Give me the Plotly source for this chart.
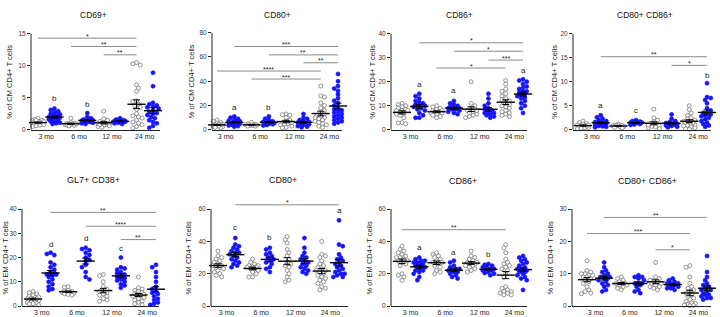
import numpy as np
import plotly.graph_objects as go

W, H = 720, 317
groups = ["3 mo", "6 mo", "12 mo", "24 mo"]

# Each panel: 8 columns -> [ctrl 3mo, trt 3mo, ctrl 6mo, trt 6mo, ctrl 12mo, trt 12mo, ctrl 24mo, trt 24mo]
cd69_cm = [
    [1.8, 1.6, 1.5, 1.4, 1.3, 1.3, 1.2, 1.1, 1.0, 1.0, 0.9, 0.8, 0.8, 0.7, 0.6, 0.5, 1.2, 1.5],
    [3.3, 3.1, 2.9, 2.7, 2.5, 2.3, 2.2, 2.0, 1.9, 1.8, 1.7, 1.5, 1.4, 1.3, 1.1, 1.0, 0.9, 2.4, 1.6],
    [1.8, 1.1, 1.0, 1.0, 0.9, 0.9, 0.8, 0.8, 0.7, 0.7, 0.6, 0.9],
    [2.6, 2.0, 1.8, 1.6, 1.5, 1.4, 1.4, 1.3, 1.3, 1.2, 1.1, 1.0, 0.9, 1.5, 1.2],
    [2.9, 1.7, 1.5, 1.3, 1.1, 1.0, 0.9, 0.8, 0.7, 0.6, 0.5, 0.4, 1.0, 0.8],
    [1.8, 1.6, 1.5, 1.4, 1.4, 1.3, 1.3, 1.2, 1.2, 1.1, 1.0, 0.9, 1.5],
    [10.5, 10.3, 10.1, 7.0, 6.5, 6.0, 4.5, 4.4, 4.0, 3.8, 3.5, 3.2, 2.5, 2.2, 2.0, 1.8, 1.5, 1.2, 1.0, 0.8, 0.5, 0.3],
    [8.9, 6.8, 4.2, 4.0, 3.8, 3.5, 3.3, 3.0, 2.8, 2.5, 2.3, 2.0, 1.8, 1.5, 1.2, 1.0, 0.6, 0.3, 3.6, 2.6],
]
cd80_cm = [
    [8, 7, 6, 5.5, 5, 4.5, 4, 4, 3.5, 3, 3, 2.5, 2, 1.5, 1, 4.5, 3],
    [11, 10, 9, 8, 7.5, 7, 6.5, 6, 5.5, 5, 5, 4.5, 4, 3.5, 3, 2.5, 6, 5],
    [6, 5, 4.5, 4, 4, 3.5, 3.5, 3, 3, 4],
    [11, 9, 8, 7, 6.5, 6, 5.5, 5, 5, 4.5, 4, 3.5, 6],
    [13, 12.5, 12, 10, 8, 7, 6, 5, 4.5, 4, 3, 2, 1.5, 6],
    [13, 10, 9, 8, 7, 6.5, 6, 5.5, 5, 4.5, 4, 3, 2.5, 2, 6],
    [36, 28, 27, 22, 20, 18, 16, 14, 13, 12, 11, 10, 9, 8, 7, 6, 5, 4, 3, 2, 10],
    [46, 40, 36, 34, 32, 29, 26, 24, 22, 20, 18, 17, 16, 15, 14, 13, 12, 11, 10, 9, 8, 7, 6, 5],
]
cd86_cm = [
    [11, 10.5, 10, 9.5, 9, 8.5, 8, 8, 7.5, 7, 6.5, 6, 5, 3, 2.8, 2.5, 8],
    [15, 14, 13, 12, 11.5, 11, 10.5, 10, 9.5, 9, 8.5, 8, 7, 6, 5, 5, 10],
    [10, 9.5, 9, 8.5, 8, 8, 7.5, 7, 7, 6.5, 6, 5.5, 5, 7.5],
    [12, 11, 10.5, 10, 9.5, 9, 9, 8.5, 8.5, 8, 7.5, 7, 6.5, 9],
    [20, 11, 10, 9, 8.5, 8, 8, 7.5, 7, 6.5, 6, 5.5, 5, 8],
    [15, 13, 11, 10, 9, 8.5, 8, 7.5, 7, 6.5, 6, 5.5, 5, 7],
    [20.5, 19, 17, 16, 15, 14, 13, 12.5, 12, 11, 10.5, 10, 9.5, 9, 8, 7.5, 7, 6.5, 6, 5.5],
    [21, 20.5, 20, 19, 18, 17.5, 17, 16, 15.5, 15, 14.5, 14, 13.5, 13, 12.5, 12, 11, 10, 9, 7, 15, 16],
]
cd80cd86_cm = [
    [1.8, 1.5, 1.3, 1.2, 1.0, 0.9, 0.8, 0.7, 0.6, 0.5, 0.4, 0.3, 0.2, 0.8, 1.0],
    [3.0, 2.6, 2.3, 2.0, 1.8, 1.6, 1.4, 1.3, 1.2, 1.0, 0.9, 0.8, 0.7, 0.6, 0.5, 1.5],
    [1.2, 1.0, 0.9, 0.9, 0.8, 0.8, 0.7, 0.6, 0.5, 0.4],
    [2.0, 1.8, 1.7, 1.6, 1.5, 1.5, 1.4, 1.3, 1.2, 1.1, 1.0, 1.5],
    [4.3, 2.5, 2.0, 1.6, 1.3, 1.1, 1.0, 0.8, 0.7, 0.6, 0.4, 0.2, 1.0],
    [3.2, 2.3, 1.8, 1.6, 1.4, 1.3, 1.2, 1.1, 1.0, 0.9, 0.8, 0.6, 0.5],
    [5.0, 4.2, 3.5, 3.0, 2.5, 2.2, 2.0, 1.8, 1.6, 1.4, 1.2, 1.0, 0.9, 0.8, 0.6, 0.4, 0.2, 0.1, 1.5],
    [9.7, 6.8, 6.6, 6.2, 5.5, 4.5, 4.0, 3.6, 3.2, 3.0, 2.8, 2.5, 2.2, 2.0, 1.8, 1.5, 1.2, 0.9, 0.6, 3.5],
]
gl7cd38_em = [
    [6, 5.5, 5, 4.5, 4, 3.8, 3.5, 3.2, 3, 2.8, 2.5, 2.2, 2, 1.8, 1.5, 1.2, 1, 0.8, 0.5, 3],
    [22, 21.5, 21, 18, 17, 16, 15, 14, 13.5, 13, 13, 12.5, 12, 11, 10, 9, 8, 7, 6.5, 13],
    [8, 7.8, 6.5, 6.2, 6, 5.8, 5.6, 5.4, 5.2, 5, 4.8, 4.5],
    [24, 23.5, 23, 22, 21, 20, 19, 18.5, 17, 16, 14, 12, 11],
    [13, 12.5, 10, 8, 7, 6.5, 6, 5.5, 5, 4.5, 4, 3, 2, 2.5],
    [20, 16, 15.5, 15, 14, 13.5, 13, 12.5, 12, 11.5, 11, 10.5, 10, 9, 8.5, 7.5],
    [12, 7.5, 7, 6.5, 6, 5.5, 5, 4.8, 4.5, 4, 3.5, 3, 2.5, 2, 1.5, 1, 0.5, 4.5, 5],
    [17, 16, 14, 12, 11, 10, 9, 8, 7.5, 7, 6, 5.5, 5, 4.5, 4, 3, 2, 1.5, 1, 0.5, 6, 2.5],
]
cd80_em = [
    [34, 31, 30, 29, 28, 27, 26, 25, 25, 24, 23, 22, 21, 20, 19, 18, 24],
    [42, 38, 37, 36, 35, 34, 33, 32, 31, 30, 29, 28, 27, 26, 25, 24, 33],
    [29, 27, 26, 25, 25, 24, 24, 23, 23, 22, 21, 20, 18, 18, 24],
    [36, 35, 33, 32, 31, 30, 29, 28, 27, 26, 24, 23, 21],
    [43, 41, 39, 35, 33, 31, 29, 27, 26, 25, 24, 22, 20, 18, 16, 15],
    [42, 36, 33, 31, 30, 29, 28, 27, 26, 25, 24, 23, 22, 21, 20],
    [40, 32, 31, 30, 28, 26, 25, 24, 23, 22, 22, 21, 20, 19, 18, 17, 16, 15, 14, 12, 11, 10],
    [53, 38, 37, 32, 30, 29, 28, 27, 26, 25, 24, 23, 22, 21, 20, 20, 19, 18, 18],
]
cd86_em = [
    [37, 35, 34, 33, 32, 31, 30, 30, 29, 28, 28, 27, 26, 25, 20, 19, 18, 16],
    [30, 29, 28, 28, 27, 27, 26, 26, 25, 25, 24, 23, 22, 22, 21, 20, 18, 16],
    [33, 32, 31, 30, 29, 28, 27, 27, 26, 25, 24, 22, 21, 20],
    [28, 27, 25, 24, 23, 23, 22, 22, 21, 21, 20, 19, 18, 17],
    [34, 31, 30, 29, 28, 27, 27, 26, 26, 25, 25, 24, 23, 22, 21],
    [26, 25.5, 25, 24.5, 24, 23, 23, 22.5, 22, 22, 21, 20.5, 20, 19],
    [38, 36, 33, 29, 27, 26, 25, 24, 23, 22, 20, 18, 12, 11, 10, 9, 9, 8, 8, 7, 7],
    [31, 30, 29, 28, 27, 26, 25, 24, 24, 23, 23, 22, 22, 21, 21, 20, 20, 19, 18, 17, 16, 10],
]
cd80cd86_em = [
    [14, 11, 10.5, 10, 9.5, 9, 9, 8.5, 8, 7.5, 7, 6, 5, 4.5, 4, 3.8, 9.5, 10],
    [13.5, 12, 11, 10.5, 10, 9.5, 9, 9, 8.5, 8.5, 8, 7.5, 7, 6.5, 6, 5, 4.5, 9],
    [9, 8.5, 8, 7.5, 7, 7, 7, 6.5, 6.5, 6, 5.5, 5, 7],
    [9.5, 9, 9, 8.5, 8, 7, 7, 6.5, 6, 5, 4.5, 4, 7],
    [13.5, 9, 8.5, 8, 7.5, 7, 7, 6.5, 6, 6, 5.5, 5, 8],
    [8.5, 8, 7.5, 7, 7, 6.5, 6.5, 6, 6, 5.5, 5.5, 5, 7],
    [12.5, 12, 9, 7, 6, 5.5, 5, 4.5, 4, 3.5, 3, 2.5, 2, 1.5, 1, 0.8, 0.5, 0.3, 0.2, 0.1],
    [15.5, 10.5, 9, 8, 7, 6.5, 6, 5.5, 5, 5, 4.5, 4, 4, 3.5, 3.5, 3, 3, 2.5, 2.5, 2],
]

# significance brackets: (from column, to column, y value, label)
sig_cd69_cm = [(0, 6, 14.3, "*"), (2, 6, 13.0, "**"), (4, 6, 11.7, "**")]
sig_cd80_cm = [(1, 7, 68.6, "***"), (3, 7, 61.7, "**"), (5, 7, 55.2, "**"), (0, 6, 48.4, "****"), (2, 6, 41.8, "***")]
sig_cd86_cm = [(1, 7, 36.2, "*"), (3, 7, 32.7, "*"), (5, 7, 29.0, "***"), (2, 6, 25.7, "*")]
sig_cd80cd86_cm = [(1, 7, 15.2, "**"), (5, 7, 13.4, "*")]
sig_gl7cd38_em = [(1, 7, 38.6, "**"), (3, 7, 32.9, "****"), (5, 7, 27.4, "**")]
sig_cd80_em = [(1, 7, 62.6, "*")]
sig_cd86_em = [(0, 6, 47.2, "**")]
sig_cd80cd86_em = [(1, 7, 27.4, "**"), (0, 6, 22.4, "***"), (4, 6, 17.4, "*")]

# letters: (column, y value, text)
let_cd69_cm = [(1, 4.9, "b"), (3, 4.0, "b")]
let_cd80_cm = [(1, 18.6, "a"), (3, 18.6, "b")]
let_cd86_cm = [(1, 19.0, "a"), (3, 16.2, "a"), (7, 24.7, "a")]
let_cd80cd86_cm = [(1, 5.0, "a"), (3, 4.0, "c"), (7, 11.3, "b")]
let_gl7cd38_em = [(1, 25.3, "d"), (3, 27.7, "d"), (5, 23.6, "c")]
let_cd80_em = [(1, 48.7, "c"), (3, 42.5, "b"), (7, 59.0, "a")]
let_cd86_em = [(1, 36.3, "a"), (3, 33.3, "a"), (5, 31.8, "b")]
let_cd80cd86_em = []

panels = [
    dict(title="CD69+", ylab="% of CM CD4+ T cells", data=cd69_cm, ticks=[0, 5, 10, 15], sig=sig_cd69_cm, let=let_cd69_cm),
    dict(title="CD80+", ylab="% of CM CD4+ T cells", data=cd80_cm, ticks=[0, 20, 40, 60, 80], sig=sig_cd80_cm, let=let_cd80_cm),
    dict(title="CD86+", ylab="% of CM CD4+ T cells", data=cd86_cm, ticks=[0, 10, 20, 30, 40], sig=sig_cd86_cm, let=let_cd86_cm),
    dict(title="CD80+ CD86+", ylab="% of CM CD4+ T cells", data=cd80cd86_cm, ticks=[0, 5, 10, 15, 20], sig=sig_cd80cd86_cm, let=let_cd80cd86_cm),
    dict(title="GL7+ CD38+", ylab="% of EM CD4+ T cells", data=gl7cd38_em, ticks=[0, 10, 20, 30, 40], sig=sig_gl7cd38_em, let=let_gl7cd38_em),
    dict(title="CD80+", ylab="% of EM CD4+ T cells", data=cd80_em, ticks=[0, 20, 40, 60], sig=sig_cd80_em, let=let_cd80_em),
    dict(title="CD86+", ylab="% of EM CD4+ T cells", data=cd86_em, ticks=[0, 20, 40, 60], sig=sig_cd86_em, let=let_cd86_em),
    dict(title="CD80+ CD86+", ylab="% of EM CD4+ T cells", data=cd80cd86_em, ticks=[0, 10, 20, 30], sig=sig_cd80cd86_em, let=let_cd80cd86_em),
]

# pixel geometry: axis left, axis right, col0 px, col7 px, y0 px, top tick px, title x, title y, ylabel x
geom = [
    (31, 160, 38, 153, 131, 34, 93, 15, 10),
    (212, 342, 217, 338, 131, 33, 277, 15, 191),
    (391, 527, 402, 523, 131, 34, 460, 15, 373),
    (573, 711, 583, 707, 131, 34, 645, 15, 555),
    (22, 159, 33, 156, 309, 211, 93, 182, 6),
    (211, 348, 218, 339, 309, 211, 283, 182, 189),
    (391, 527, 402, 523, 309, 211, 463, 183, 370),
    (572, 711, 587, 707, 309, 211, 647, 183, 551),
]

FONT = "Liberation Sans, Arial, sans-serif"
GREY_EDGE = "#6a6a6a"
BLUE = "#1414ff"


def swarm(vals, ppx, ppy, d=3.4, maxw=7.0):
    order = np.argsort(-np.asarray(vals, dtype=float), kind="stable")
    xs = np.zeros(len(vals))
    placed = []
    step = d * 0.55
    cands = [0.0]
    k = 1
    while k * step <= maxw:
        cands += [k * step, -k * step]
        k += 1
    for j, idx in enumerate(order):
        yp = vals[idx] * ppy
        best, bscore = 0.0, -1
        cc = cands if j % 2 == 0 else [-c for c in cands]
        for c in cc:
            md = min([np.hypot(c - px, yp - py) for px, py in placed], default=1e9)
            if md >= d:
                best = c
                break
            if md > bscore:
                bscore, best = md, c
        placed.append((best, yp))
        xs[idx] = best / ppx
    return xs


fig = go.Figure()
shapes, annotations = [], []
layout_axes = {}

for i, (p, g) in enumerate(zip(panels, geom)):
    n = i + 1
    xl, xr, c0, c7, y0, yT, tx, ty, ylx = g
    T = p["ticks"][-1]
    ppx = (c7 - c0) / 7.0
    ppy = (y0 - yT) / T
    xr0 = -(c0 - xl) / ppx
    xr1 = 7 + (xr - c7) / ppx
    ymax = T * 1.3
    top_px = y0 - ymax * ppy
    xa = "x" if n == 1 else f"x{n}"
    ya = "y" if n == 1 else f"y{n}"
    layout_axes["xaxis" if n == 1 else f"xaxis{n}"] = dict(
        domain=[xl / W, xr / W], range=[xr0, xr1], anchor=ya,
        showline=True, linecolor="#222", linewidth=1, ticks="",
        tickvals=[0.5, 2.5, 4.5, 6.5], ticktext=groups,
        tickfont=dict(size=7, color="#222", family=FONT),
        showgrid=False, zeroline=False, fixedrange=True)
    layout_axes["yaxis" if n == 1 else f"yaxis{n}"] = dict(
        domain=[1 - y0 / H, 1 - top_px / H], range=[0, ymax], anchor=xa,
        showline=False, ticks="outside", ticklen=3, tickwidth=1, tickcolor="#222",
        tickvals=p["ticks"], tickfont=dict(size=6.5, color="#333", family=FONT),
        showgrid=False, zeroline=False, fixedrange=True)
    # y axis line up to top tick
    shapes.append(dict(type="line", xref=f"{xa} domain", yref=ya, x0=0, x1=0, y0=0, y1=T,
                       line=dict(color="#222", width=1)))

    for col, vals in enumerate(p["data"]):
        vals = np.asarray(vals, dtype=float)
        off = swarm(vals, ppx, ppy)
        ctrl = col % 2 == 0
        fig.add_trace(go.Scatter(
            x=col + off, y=vals, mode="markers", xaxis=xa, yaxis=ya, cliponaxis=False,
            marker=dict(symbol="circle", size=4.0,
                        color="white" if ctrl else BLUE,
                        line=dict(color=GREY_EDGE if ctrl else BLUE, width=0.7)),
            showlegend=False, hoverinfo="skip"))
        m = vals.mean()
        sem = vals.std(ddof=1) / np.sqrt(len(vals))
        fig.add_trace(go.Scatter(
            x=[col], y=[m], mode="markers", xaxis=xa, yaxis=ya, cliponaxis=False,
            marker=dict(symbol="line-ew", size=13, line=dict(color="black", width=1.4)),
            error_y=dict(type="data", array=[sem], color="black", thickness=1, width=3.5),
            showlegend=False, hoverinfo="skip"))

    for a, b, yv, lab in p["sig"]:
        shapes.append(dict(type="line", xref=xa, yref=ya, x0=a, x1=b, y0=yv, y1=yv,
                           line=dict(color="#8c8c8c", width=1)))
        annotations.append(dict(x=(a + b) / 2, y=yv, xref=xa, yref=ya, text=lab, showarrow=False,
                                yanchor="bottom", yshift=-3.5,
                                font=dict(size=7, color="#222", family=FONT)))
    for col, yv, t in p["let"]:
        annotations.append(dict(x=col, y=yv, xref=xa, yref=ya, text=t, showarrow=False,
                                yanchor="middle", font=dict(size=8, color="#222", family=FONT)))

    annotations.append(dict(x=tx / W, y=1 - ty / H, xref="paper", yref="paper", text=p["title"],
                            showarrow=False, xanchor="center", yanchor="middle",
                            font=dict(size=8.5 if n <= 4 else 9, color="#111", family=FONT)))
    annotations.append(dict(x=ylx / W, y=1 - ((y0 + yT) / 2) / H, xref="paper", yref="paper",
                            text=p["ylab"], textangle=-90, showarrow=False,
                            xanchor="center", yanchor="middle",
                            font=dict(size=7.5, color="#222", family=FONT)))

fig.update_layout(width=W, height=H, margin=dict(l=0, r=0, t=0, b=0),
                  paper_bgcolor="white", plot_bgcolor="white",
                  shapes=shapes, annotations=annotations, showlegend=False,
                  **layout_axes)
fig.write_html("out.html", config={"displayModeBar": False, "staticPlot": True},
               post_script="document.body.style.margin='0';document.body.style.padding='0';document.body.style.overflow='hidden';")
